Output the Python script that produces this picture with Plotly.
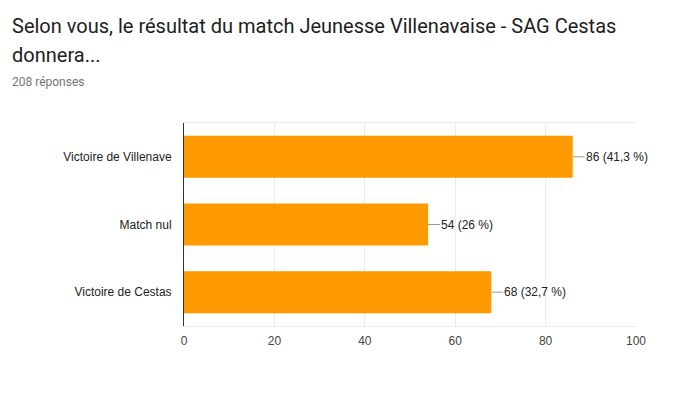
import plotly.graph_objects as go

categories = ["Victoire de Villenave", "Match nul", "Victoire de Cestas"]
values = [86, 54, 68]
labels = ["86 (41,3 %)", "54 (26 %)", "68 (32,7 %)"]
x_ticks = [0, 20, 40, 60, 80, 100]
title_lines = ["Selon vous, le résultat du match Jeunesse Villenavaise - SAG Cestas", "donnera..."]
subtitle = "208 réponses"

OFF = 8  # page body margin
W, H = 696, 398
ML, MR, MT, MB = 184 - OFF, 60 + OFF, 123 - OFF, 72 + OFF
PH = H - MT - MB
PW = W - ML - MR

def py(px):
    return 1 + (MT - (px - OFF)) / PH

def pxx(px):
    return ((px - OFF) - ML) / PW

fig = go.Figure()
fig.add_trace(go.Bar(
    x=values, y=categories, orientation="h",
    marker=dict(color="#ff9900", line=dict(width=0)),
    width=0.62, hoverinfo="skip",
))

for v, c, t in zip(values, categories, labels):
    fig.add_annotation(
        x=v, y=c, xref="x", yref="y", text=t,
        showarrow=True, arrowhead=0, arrowwidth=1, arrowcolor="#999999",
        ax=12, ay=0, xanchor="left", yanchor="middle",
        font=dict(family="Arial, Liberation Sans, sans-serif", size=12, color="#222222"),
        borderpad=0,
    )

fig.add_annotation(x=pxx(10), y=py(26), xref="paper", yref="paper", text=title_lines[0],
                   showarrow=False, xanchor="left", yanchor="middle",
                   font=dict(family="Roboto, Arial, sans-serif", size=20, color="#212121"))
fig.add_annotation(x=pxx(10), y=py(55), xref="paper", yref="paper", text=title_lines[1],
                   showarrow=False, xanchor="left", yanchor="middle",
                   font=dict(family="Roboto, Arial, sans-serif", size=20, color="#212121"))
fig.add_annotation(x=pxx(10), y=py(82), xref="paper", yref="paper", text=subtitle,
                   showarrow=False, xanchor="left", yanchor="middle",
                   font=dict(family="Roboto, Arial, sans-serif", size=12, color="#757575"))

fig.update_layout(
    width=W, height=H,
    margin=dict(l=ML, r=MR, t=MT, b=MB, pad=0),
    paper_bgcolor="white", plot_bgcolor="white",
    showlegend=False,
    bargap=0.38,
    xaxis=dict(
        range=[0, 100], tickvals=x_ticks, ticktext=[str(t) for t in x_ticks],
        showgrid=True, gridcolor="#ebebeb", gridwidth=1,
        zeroline=False, showline=True, linecolor="#ebebeb", linewidth=1, mirror=True,
        ticks="", ticklabelstandoff=4,
        tickfont=dict(family="Arial, Liberation Sans, sans-serif", size=12, color="#444444"),
        fixedrange=True,
    ),
    yaxis=dict(
        categoryorder="array", categoryarray=categories[::-1],
        showgrid=False, zeroline=False, showline=True, linecolor="#333333", linewidth=1,
        ticks="", ticklabelstandoff=9,
        tickfont=dict(family="Arial, Liberation Sans, sans-serif", size=12, color="#222222"),
        fixedrange=True,
    ),
)

fig.write_html("out.html", config={"displayModeBar": False})
